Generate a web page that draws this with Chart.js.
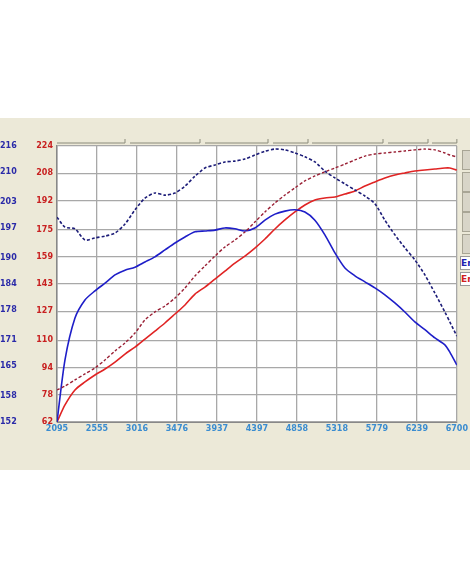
<!DOCTYPE html>
<html>
<head>
<meta charset="utf-8">
<script src="https://cdn.jsdelivr.net/npm/chart.js@4"></script>
<style>
  body { margin: 0; background: #fff; width: 470px; height: 588px; position: relative; overflow: hidden; }
  #panel { position: absolute; left: 0; top: 118px; width: 470px; height: 352px; background: #ECE9D8; }
  #wrap { position: absolute; left: 0; top: 118px; width: 470px; height: 352px; }
  .btn { position: absolute; left: 462px; width: 10px; height: 18px; background: #d8d5c8; border: 1px solid #a8a595; }
  .leg { position: absolute; left: 460px; width: 12px; height: 12px; background: #fff; border: 1px solid #999;
         font: bold 9px "DejaVu Sans", sans-serif; line-height: 12px; overflow: hidden; }
</style>
</head>
<body>
<div id="panel"></div>
<div class="btn" style="top:150px"></div>
<div class="btn" style="top:172px"></div>
<div class="btn" style="top:192px"></div>
<div class="btn" style="top:212px"></div>
<div class="btn" style="top:234px"></div>
<div class="leg" style="top:256px;color:#2020b0">En</div>
<div class="leg" style="top:272px;color:#d02020">En</div>
<div id="wrap"><canvas id="dyno"></canvas></div>
<script>
const rpm = [2095, 2187, 2302, 2417, 2532, 2648, 2763, 2878, 2993, 3108, 3223, 3338, 3454, 3569, 3684, 3799, 3914, 4029, 4144, 4259, 4374, 4490, 4605, 4720, 4835, 4950, 5065, 5180, 5296, 5411, 5526, 5641, 5756, 5871, 5986, 6101, 6216, 6332, 6447, 6562, 6619, 6700];

const torqueBlue = [152.0, 166.4, 176.1, 180.3, 182.4, 184.2, 186.1, 187.2, 187.9, 189.1, 190.3, 191.9, 193.5, 194.9, 196.1, 196.3, 196.5, 197.0, 196.8, 196.3, 197.0, 198.8, 200.2, 200.9, 201.2, 200.7, 198.8, 195.4, 191.2, 187.7, 185.9, 184.5, 183.1, 181.5, 179.6, 177.5, 175.2, 173.4, 171.5, 169.9, 168.2, 165.2];
const torqueBlueDashed = [199.5, 197.2, 196.8, 194.2, 194.7, 195.1, 195.8, 197.9, 201.2, 203.9, 205.1, 204.6, 205.1, 206.7, 209.0, 210.9, 211.6, 212.3, 212.5, 213.0, 213.9, 214.8, 215.3, 215.1, 214.4, 213.5, 212.3, 210.2, 208.6, 207.2, 205.8, 204.4, 202.6, 198.8, 195.4, 192.4, 189.6, 186.1, 181.9, 177.5, 175.2, 171.9];
const powerRed = [62.0, 72.0, 80.8, 85.5, 89.6, 93.1, 97.2, 101.9, 106.0, 110.7, 115.4, 120.1, 125.4, 130.7, 137.1, 141.2, 145.9, 150.6, 155.3, 159.4, 164.1, 169.4, 175.3, 180.6, 185.3, 189.4, 192.3, 193.5, 194.1, 195.8, 197.6, 200.5, 202.9, 205.2, 207.0, 208.2, 209.3, 209.9, 210.5, 211.1, 211.1, 209.9];
const powerRedDashed = [80.8, 83.1, 86.7, 90.2, 93.7, 98.4, 103.7, 108.4, 114.2, 121.9, 126.6, 130.1, 134.8, 140.7, 147.7, 153.6, 159.4, 164.7, 168.8, 173.5, 179.4, 185.3, 190.6, 195.2, 199.4, 203.5, 206.4, 208.8, 211.1, 213.4, 215.8, 218.1, 219.3, 219.9, 220.5, 221.1, 221.7, 222.2, 221.7, 219.9, 218.7, 217.6];

const xTicks = [2095, 2555, 3016, 3476, 3937, 4397, 4858, 5318, 5779, 6239, 6700];
const redTicks = [62, 78, 94, 110, 127, 143, 159, 175, 192, 208, 224];
const blueTicks = [152, 158, 165, 171, 178, 184, 190, 197, 203, 210, 216];

const pts = (ys) => ys.map((y, i) => ({ x: rpm[i], y: y }));
const tickFont = { family: 'DejaVu Sans', size: 8, weight: 'bold' };

const config = {
    type: 'line',
    data: {
        datasets: [
            { data: pts(torqueBlueDashed), yAxisID: 'yBlue', borderColor: '#1c1c78', borderDash: [3, 2], borderWidth: 1.6 },
            { data: pts(powerRedDashed), yAxisID: 'yRed', borderColor: '#9a2035', borderDash: [3, 2], borderWidth: 1.4 },
            { data: pts(torqueBlue), yAxisID: 'yBlue', borderColor: '#1e1ec8', borderWidth: 1.6 },
            { data: pts(powerRed), yAxisID: 'yRed', borderColor: '#e02424', borderWidth: 1.6 }
        ]
    },
    options: {
        responsive: true,
        maintainAspectRatio: false,
        animation: false,
        elements: { point: { radius: 0 }, line: { tension: 0.25 } },
        layout: { padding: { top: 28, right: 13, bottom: 28, left: 0 } },
        plugins: { legend: { display: false }, tooltip: { enabled: false } },
        scales: {
            x: {
                type: 'linear', min: 2095, max: 6700,
                afterBuildTicks: (s) => { s.ticks = xTicks.map(v => ({ value: v })); },
                afterFit: (s) => { s.height = 20; },
                ticks: { color: '#3a8cd0', font: tickFont, padding: 2, maxRotation: 0,
                         callback: (v) => v },
                grid: { color: '#a8a8a8', lineWidth: 1.3, drawTicks: false },
                border: { color: '#888' }
            },
            yRed: {
                position: 'left', min: 62, max: 224,
                afterBuildTicks: (s) => { s.ticks = redTicks.map(v => ({ value: v })); },
                afterFit: (s) => { s.width = 27; },
                ticks: { color: '#c82020', font: tickFont, padding: 4 },
                grid: { color: '#a8a8a8', lineWidth: 1.3, drawTicks: false },
                border: { color: '#888', width: 1.5 }
            },
            yBlue: {
                position: 'left', min: 152, max: 216,
                afterBuildTicks: (s) => { s.ticks = blueTicks.map(v => ({ value: v })); },
                afterFit: (s) => { s.width = 30; },
                ticks: { color: '#2a2aa8', font: tickFont, padding: 2, crossAlign: 'far' },
                grid: { display: false, drawTicks: false },
                border: { display: false }
            }
        }
    },
    plugins: [{
        id: 'plotBg',
        beforeDraw: (chart) => {
            const a = chart.chartArea, c = chart.ctx;
            c.save();
            c.fillStyle = '#ffffff';
            c.fillRect(a.left, a.top, a.right - a.left, a.bottom - a.top);
            c.strokeStyle = '#8a8a7a';
            c.lineWidth = 1;
            const stops = [a.left, 125, 130, 200, 205, 268, 273, 308, 312, 383, 388, 428, 432, a.right];
            for (let i = 0; i < stops.length; i += 2) {
                c.beginPath();
                c.moveTo(stops[i], a.top - 3);
                c.lineTo(stops[i + 1], a.top - 3);
                c.lineTo(stops[i + 1], a.top - 7);
                c.stroke();
            }
            c.restore();
        }
    }]
};

new Chart(document.getElementById('dyno'), config);
</script>
</body>
</html>
